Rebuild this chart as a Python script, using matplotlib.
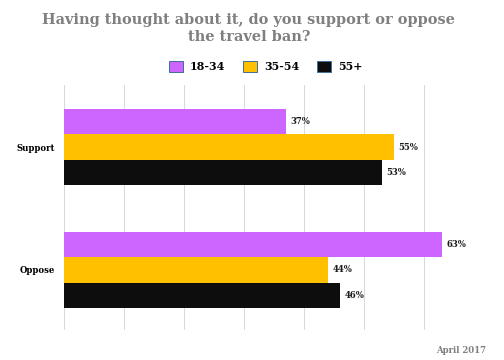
import numpy as np
import matplotlib
matplotlib.use("Agg")
import matplotlib.pyplot as plt
from matplotlib.patches import Patch

categories = ["Support", "Oppose"]
groups = ["18-34", "35-54", "55+"]
values = {
    "18-34": [37, 63],
    "35-54": [55, 44],
    "55+": [53, 46],
}
colors = ["#cc66ff", "#ffc000", "#0d0d0d"]

plt.rcParams['font.family'] = ['DejaVu Serif']

fig = plt.figure(figsize=(7, 5), dpi=72)
ax = fig.add_axes([64/504, 1-330/360, 420/504, 245/360])

h = 0.207
y = np.arange(len(categories))
for i, g in enumerate(groups):
    pos = y + (i - 1) * h
    ax.barh(pos, values[g], height=h, color=colors[i], zorder=2)
    for p, v in zip(pos, values[g]):
        ax.text(v + 0.7, p, "%d%%" % v, va="center", ha="left",
                fontsize=8.5, fontweight="bold", color="#1a1a1a")

ax.set_xlim(0, 70)
ax.set_ylim(1.49, -0.505)
ax.set_xticks(np.arange(0, 71, 10))
ax.set_xticklabels([])
ax.set_yticks(y)
ax.set_yticklabels(categories, fontsize=8.5, fontweight="bold")
ax.tick_params(length=0, pad=9)
ax.grid(axis="x", color="#d9d9d9", lw=1, zorder=0)
for s in ax.spines.values():
    s.set_visible(False)

fig.text(0.494, 0.920, "Having thought about it, do you support or oppose\nthe travel ban?",
         ha="center", va="center", fontsize=14.5, fontweight="bold",
         color="#7f7f7f", linespacing=1.3)

handles = [Patch(facecolor=c, edgecolor="#41719c", lw=1) for c in colors]
fig.legend(handles, groups, loc="center", bbox_to_anchor=(0.527, 0.815), ncol=3,
           frameon=False, prop={"weight": "bold", "size": 11},
           handlelength=1.3, handleheight=1.1, columnspacing=1.6, handletextpad=0.6)

fig.text(0.965, 0.027, "April 2017", ha="right", va="center",
         fontsize=8.5, fontweight="bold", color="#7f7f7f")

fig.savefig("out.png", dpi=72)
